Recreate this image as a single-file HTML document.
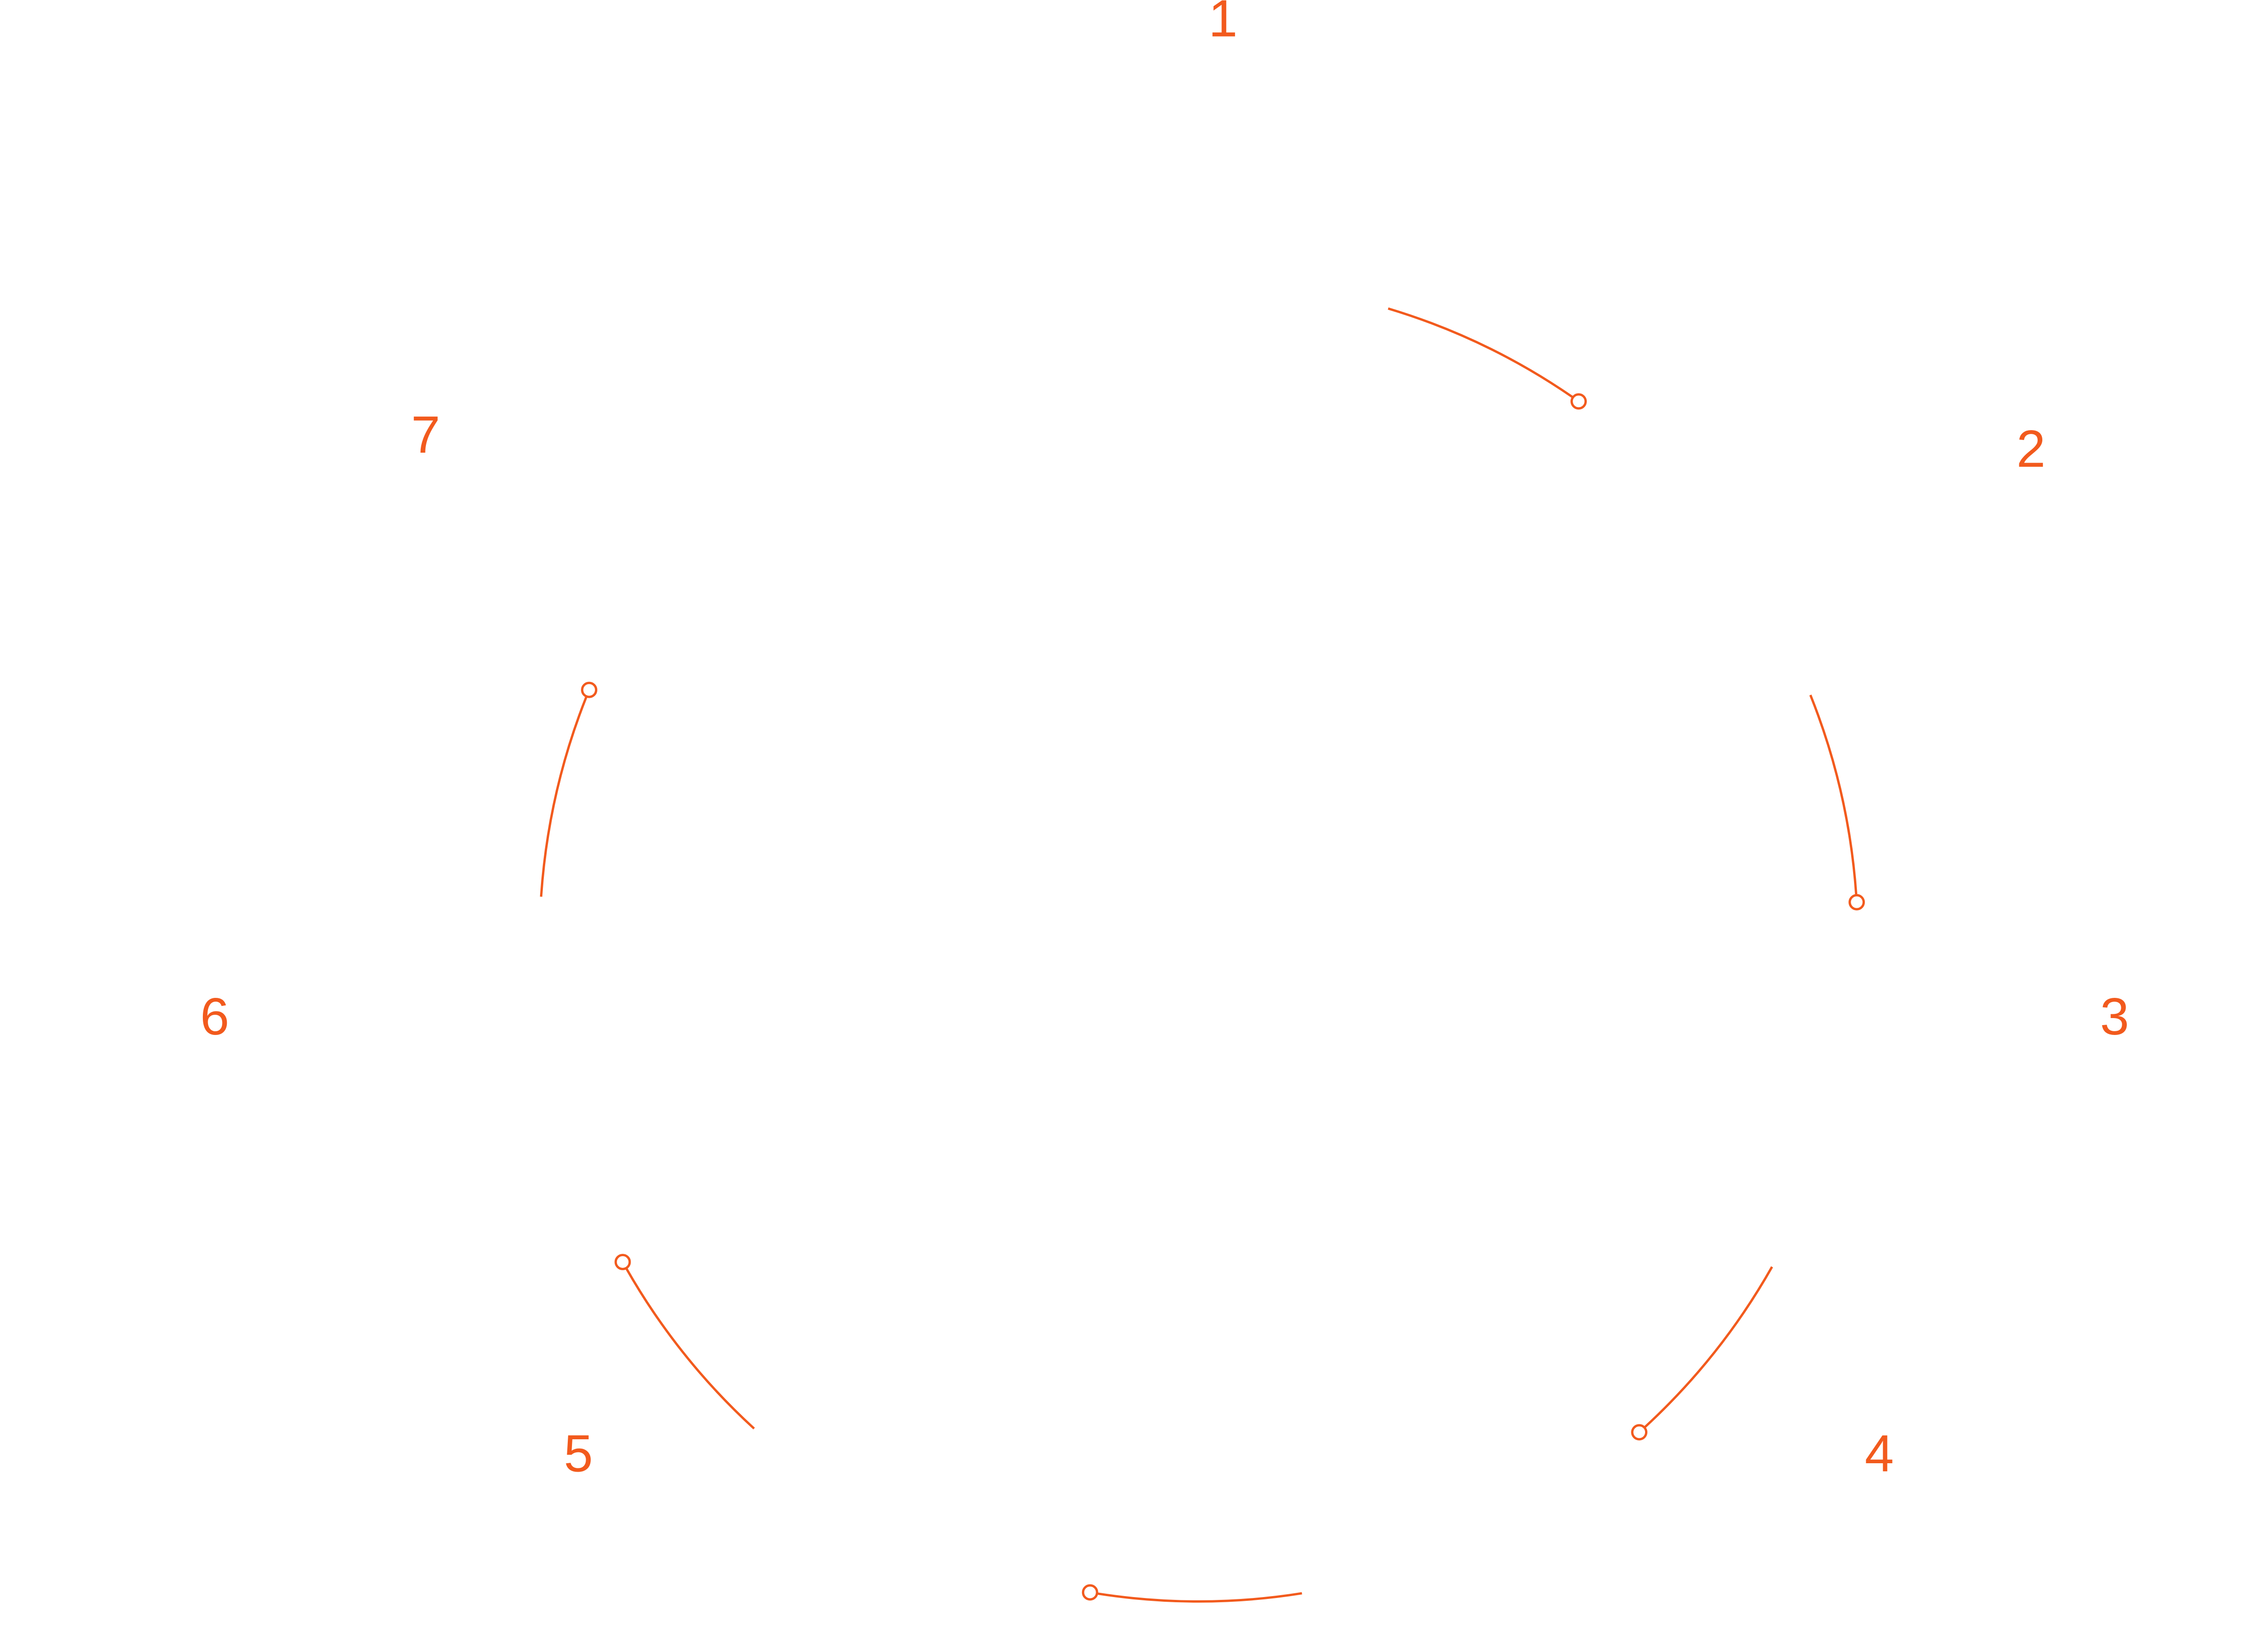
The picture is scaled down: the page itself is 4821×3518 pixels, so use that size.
<!DOCTYPE html>
<html><head><meta charset="utf-8">
<style>
html,body{margin:0;padding:0;background:#fff;}
svg{display:block;}
text{font-family:"Liberation Sans",sans-serif;font-size:112px;fill:#f25a1d;text-anchor:middle;}
</style></head>
<body>
<svg id="s" width="4821" height="3518" viewBox="0 0 4821 3518" xmlns="http://www.w3.org/2000/svg">
<g transform="scale(0.994,0.996)">
<g id="arcs" fill="none" stroke="#f25a1d" stroke-width="5"></g>
<text x="2620" y="78">1</text>
<text x="4351" y="998">2</text>
<text x="4530" y="2212">3</text>
<text x="4026" y="3146">4</text>
<text x="1239" y="3146">5</text>
<text x="460" y="2212">6</text>
<text x="912" y="968">7</text>
</g>
</svg>
<script>
var cx=2568, cy=2012, R=1412, g=document.getElementById('arcs'), h='';
function pt(a){var r=a*Math.PI/180;return [cx+R*Math.sin(r), cy-R*Math.cos(r)];}
for(var k=0;k<6;k++){
  var a0=16.7+51.43*k, a1=a0+18.5;
  var p0=pt(a0), p1=pt(a1-0.65);
  h+='<path d="M'+p0[0].toFixed(1)+' '+p0[1].toFixed(1)+' A'+R+' '+R+' 0 0 1 '+p1[0].toFixed(1)+' '+p1[1].toFixed(1)+'"/>';
  var c=pt(a1);
  h+='<circle cx="'+c[0].toFixed(1)+'" cy="'+c[1].toFixed(1)+'" r="15" fill="#fff"/>';
}
g.innerHTML=h;
</script>
</body></html>
